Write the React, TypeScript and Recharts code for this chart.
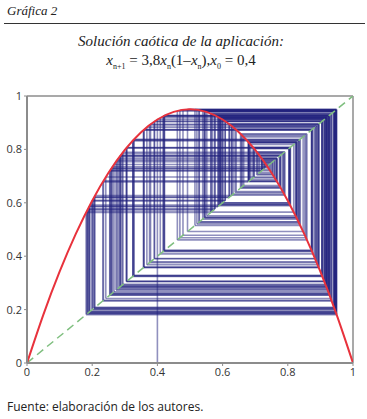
import React from 'react';
import { LineChart, Line, XAxis, YAxis, ReferenceLine } from 'recharts';

// Orbit of x_{n+1} = 3.8 x_n (1 - x_n), x_0 = 0.4 (values as tabulated)
const iterates = [
  0.4, 0.912, 0.30497, 0.80546, 0.595437, 0.915386, 0.294328, 0.789256, 0.632058, 0.883728,
  0.390461, 0.904404, 0.328537, 0.838272, 0.515174, 0.949126, 0.183487, 0.569312, 0.931745, 0.241665,
  0.696399, 0.803423, 0.600149, 0.911886, 0.305331, 0.805995, 0.594195, 0.916283, 0.291494, 0.784799,
  0.641782, 0.873612, 0.419569, 0.925418, 0.262276, 0.735251, 0.739697, 0.731671, 0.74605, 0.719944,
  0.766175, 0.680774, 0.82582, 0.546596, 0.94175, 0.208457, 0.627011, 0.888698, 0.375873, 0.891453,
  0.367703, 0.883489, 0.391161, 0.904985, 0.326751, 0.835943, 0.52114, 0.948301, 0.186299, 0.57605,
  0.928021, 0.253832, 0.719724, 0.76654, 0.680033, 0.826834, 0.544084, 0.942617, 0.205542, 0.620517,
  0.894809, 0.357679, 0.873031, 0.421222, 0.926417, 0.259042, 0.729376, 0.750067, 0.712375, 0.778609,
  0.655033, 0.858667, 0.46116, 0.944266, 0.199986, 0.60797, 0.9057, 0.324551, 0.833029, 0.52855,
  0.946903, 0.191056, 0.587305, 0.921036, 0.27637, 0.759962, 0.693196, 0.808165, 0.589129, 0.919813,
  0.280277, 0.766544, 0.680029, 0.826842, 0.544061, 0.942624, 0.205519, 0.620468, 0.894854, 0.357542,
  0.872887, 0.421633, 0.926664, 0.25824, 0.727898, 0.752636, 0.707465, 0.786433, 0.638233, 0.87739,
  0.408793, 0.918388, 0.284818, 0.774049, 0.664609, 0.847035, 0.492355, 0.949778, 0.18126, 0.563939,
  0.934466, 0.232708, 0.678505, 0.828917, 0.538893, 0.944251, 0.200036, 0.608084, 0.905608, 0.324832,
  0.833401, 0.527607, 0.947104, 0.190372, 0.585698, 0.922093, 0.272984, 0.754163, 0.704524, 0.791046,
  0.62811, 0.887634, 0.379012, 0.894376, 0.358978, 0.874429, 0.417251, 0.923981, 0.266912, 0.743546,
  0.724607, 0.758298, 0.696472, 0.803316, 0.600399, 0.911696, 0.305923, 0.806869, 0.592158, 0.917727,
  0.286915, 0.777461, 0.657457, 0.855794, 0.468962, 0.946341, 0.192964, 0.59177, 0.917996, 0.28606,
  0.776074, 0.660375, 0.852264, 0.478458, 0.948237, 0.186519, 0.57657, 0.927721, 0.254809, 0.721548,
  0.763485, 0.686185, 0.818273, 0.565068, 0.933911, 0.23454, 0.682218, 0.823829, 0.551517, 0.939915,
  0.214605,
];

const curveX = [0, 0.05, 0.1, 0.15, 0.2, 0.25, 0.3, 0.35, 0.4, 0.45, 0.5, 0.55, 0.6, 0.65, 0.7, 0.75, 0.8, 0.85, 0.9, 0.95, 1];
const curveY = [0, 0.1805, 0.342, 0.4845, 0.608, 0.7125, 0.798, 0.8645, 0.912, 0.9405, 0.95, 0.9405, 0.912, 0.8645, 0.798, 0.7125, 0.608, 0.4845, 0.342, 0.1805, 0];

const diagX = [0, 1];
const diagY = [0, 1];

const ticks = [0, 0.2, 0.4, 0.6, 0.8, 1];

const curveData = curveX.map((x, i) => ({ x, y: curveY[i] }));
const diagData = diagX.map((x, i) => ({ x, y: diagY[i] }));

const segments: { x: number; y: number }[][] = [];
for (let i = 0; i < iterates.length - 1; i++) {
  const a = iterates[i];
  const b = iterates[i + 1];
  segments.push([
    { x: a, y: i === 0 ? 0 : a },
    { x: a, y: b },
  ]);
  if (i < iterates.length - 2) {
    segments.push([
      { x: a, y: b },
      { x: b, y: b },
    ]);
  }
}

const axisColor = '#8c8c8c';
const tickStyle = { fontFamily: 'Open Sans, Noto Sans, sans-serif', fontSize: 11, fill: '#333' };

export default function App() {
  return (
    <div style={{ position: 'absolute', left: 0, top: 0, width: 367, height: 419, background: '#fff' }}>
      <div
        style={{
          position: 'absolute',
          left: 7,
          top: 3,
          fontFamily: 'Liberation Serif, serif',
          fontStyle: 'italic',
          fontSize: 13,
          color: '#222',
        }}
      >
        Gráfica 2
      </div>
      <div style={{ position: 'absolute', left: 4, top: 23, width: 361, height: 1, background: '#333' }} />
      <div
        style={{
          position: 'absolute',
          left: 0,
          top: 32,
          width: 362,
          textAlign: 'center',
          fontFamily: 'Liberation Serif, serif',
          fontStyle: 'italic',
          fontSize: 15,
          color: '#222',
          lineHeight: '19px',
        }}
      >
        <div>Solución caótica de la aplicación:</div>
        <div style={{ fontStyle: 'normal' }}>
          <i>x</i>
          <sub style={{ fontSize: 8 }}>n+1</sub> = 3,8<i>x</i>
          <sub style={{ fontSize: 8 }}>n</sub>(1–<i>x</i>
          <sub style={{ fontSize: 8 }}>n</sub>),<i>x</i>
          <sub style={{ fontSize: 8 }}>0</sub> = 0,4
        </div>
      </div>
      <div style={{ position: 'absolute', left: 0, top: 86 }}>
        <LineChart width={367} height={300} margin={{ top: 10, right: 14, bottom: 3, left: 0 }}>
          <XAxis
            dataKey="x"
            type="number"
            domain={[0, 1]}
            ticks={ticks}
            height={20}
            allowDataOverflow
            axisLine={{ stroke: axisColor, strokeWidth: 2 }}
            tickLine={{ stroke: axisColor }}
            tickSize={3}
            tick={tickStyle}
          />
          <YAxis
            dataKey="y"
            type="number"
            domain={[0, 1]}
            ticks={ticks}
            width={27}
            allowDataOverflow
            axisLine={{ stroke: axisColor, strokeWidth: 2 }}
            tickLine={{ stroke: axisColor }}
            tickSize={3}
            tick={tickStyle}
          />
          <ReferenceLine y={1} stroke={axisColor} strokeWidth={1.5} />
          <ReferenceLine x={1} stroke={axisColor} strokeWidth={1.5} />
          {segments.map((seg, i) => (
            <Line
              key={'s' + i}
              data={seg}
              dataKey="y"
              type="linear"
              stroke="#22227e"
              strokeOpacity={0.5}
              strokeWidth={1.6}
              dot={false}
              activeDot={false}
              isAnimationActive={false}
            />
          ))}
          <Line
            data={diagData}
            dataKey="y"
            type="linear"
            stroke="#7fbf7f"
            strokeWidth={1.5}
            strokeDasharray="8 5"
            dot={false}
            activeDot={false}
            isAnimationActive={false}
          />
          <Line
            data={curveData}
            dataKey="y"
            type="natural"
            stroke="#e8323c"
            strokeWidth={2}
            dot={false}
            activeDot={false}
            isAnimationActive={false}
          />
        </LineChart>
      </div>
      <div
        style={{
          position: 'absolute',
          left: 7,
          top: 398,
          fontFamily: 'Open Sans, sans-serif',
          fontSize: 12,
          color: '#222',
        }}
      >
        Fuente: elaboración de los autores.
      </div>
    </div>
  );
}
